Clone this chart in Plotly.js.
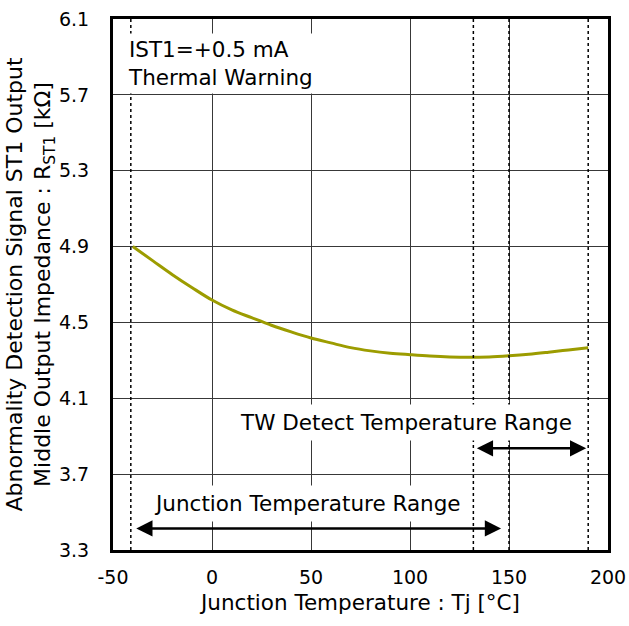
<!DOCTYPE html>
<html>
<head>
<meta charset="utf-8">
<script src="https://cdn.plot.ly/plotly-3.0.1.min.js"></script>
<style>html,body{margin:0;padding:0;background:#fff;}#chart{width:629px;height:626px;}</style>
</head>
<body>
<div id="chart"></div>
<script>
// Data
const tempC = [-40, -30, -20, -10, 0, 10, 20, 30, 40, 50, 60, 70, 80, 90, 100, 110, 120, 130, 140, 150, 160, 170, 180, 190];
const impedanceK = [4.900, 4.826, 4.752, 4.683, 4.618, 4.566, 4.525, 4.485, 4.450, 4.418, 4.392, 4.367, 4.350, 4.338, 4.330, 4.323, 4.318, 4.316, 4.318, 4.324, 4.332, 4.343, 4.355, 4.367];
const xTicks = [-50, 0, 50, 100, 150, 200];
const yTicks = [3.3, 3.7, 4.1, 4.5, 4.9, 5.3, 5.7, 6.1];
const boundaryTemps = [-41, 132, 150, 190];
const junctionRange = [-39, 146];
const twRange = [133, 189];
const junctionArrowY = 3.414;
const twArrowY = 3.836;

const font = 'DejaVu Sans, Liberation Sans, Arial, sans-serif';

const shapes = boundaryTemps.map(t => ({
  type: 'line', xref: 'x', yref: 'y', x0: t, x1: t, y0: 3.3, y1: 6.1,
  line: {color: '#000', width: 1.5, dash: 'dot'}
}));

const annotations = [
  {xref: 'paper', yref: 'paper', x: 0.022, y: 0.974, xanchor: 'left', yanchor: 'top', align: 'left',
   text: 'IST1=+0.5 mA<br>Thermal Warning', showarrow: false, bgcolor: '#fff', borderpad: 3,
   font: {family: font, size: 21.5, color: '#000'}},
  {xref: 'x', yref: 'y', x: 98, y: 3.972, text: 'TW Detect Temperature Range', showarrow: false,
   font: {family: font, size: 21.5, color: '#000'}, bgcolor: '#fff', borderpad: 5},
  {xref: 'x', yref: 'y', x: 48, y: 3.545, text: 'Junction Temperature Range', showarrow: false,
   font: {family: font, size: 21.5, color: '#000'}, bgcolor: '#fff', borderpad: 5},
  {xref: 'x', yref: 'y', axref: 'x', ayref: 'y', x: junctionRange[1], y: junctionArrowY,
   ax: junctionRange[0], ay: junctionArrowY, text: '', showarrow: true, arrowside: 'end+start',
   arrowhead: 2, arrowsize: 1.3, arrowwidth: 2.5, arrowcolor: '#000'},
  {xref: 'x', yref: 'y', axref: 'x', ayref: 'y', x: twRange[1], y: twArrowY,
   ax: twRange[0], ay: twArrowY, text: '', showarrow: true, arrowside: 'end+start',
   arrowhead: 2, arrowsize: 1.3, arrowwidth: 2.5, arrowcolor: '#000'}
];

const trace = {
  x: tempC, y: impedanceK, type: 'scatter', mode: 'lines',
  line: {color: '#9c9c00', width: 3, shape: 'spline', smoothing: 1},
  hoverinfo: 'skip'
};

const layout = {
  width: 629, height: 626,
  margin: {l: 113, r: 21, t: 19, b: 76},
  paper_bgcolor: '#fff', plot_bgcolor: '#fff',
  showlegend: false,
  font: {family: font, size: 19, color: '#000'},
  xaxis: {
    range: [-50, 200], tickvals: xTicks, ticktext: xTicks.map(String),
    showgrid: true, gridcolor: '#383838', gridwidth: 1, zeroline: false,
    showline: true, linecolor: '#000', linewidth: 3, mirror: true,
    ticks: '', ticklabelstandoff: 8, tickfont: {family: font, size: 19, color: '#000'},
    title: {text: 'Junction Temperature : Tj [°C]', font: {family: font, size: 21.5, color: '#000'}, standoff: 9},
    automargin: false
  },
  yaxis: {
    range: [3.3, 6.1], tickvals: yTicks, ticktext: yTicks.map(v => v.toFixed(1)),
    showgrid: true, gridcolor: '#383838', gridwidth: 1, zeroline: false,
    showline: true, linecolor: '#000', linewidth: 3, mirror: true,
    ticks: '', ticklabelstandoff: 17, tickfont: {family: font, size: 19, color: '#000'},
    title: {text: 'Abnormality Detection Signal ST1 Output<br>Middle Output Impedance : R<sub>ST1</sub> [kΩ]',
            font: {family: font, size: 22, color: '#000'}, standoff: 0},
    automargin: false
  },
  shapes: shapes,
  annotations: annotations
};

Plotly.newPlot('chart', [trace], layout, {staticPlot: true, displayModeBar: false});
</script>
</body>
</html>
